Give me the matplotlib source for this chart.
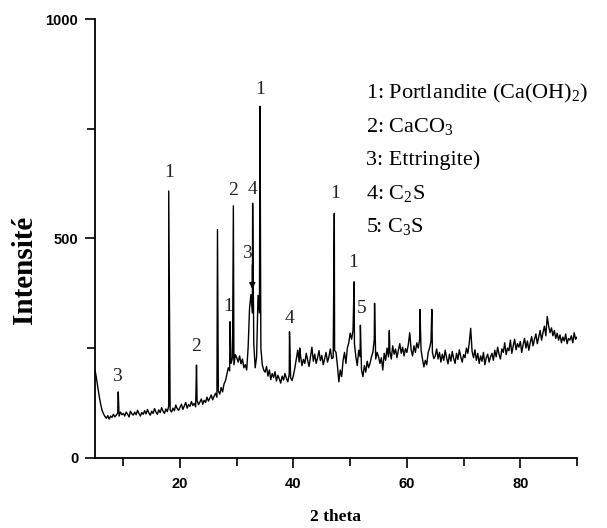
import numpy as np
import matplotlib.pyplot as plt

# scan grid (2 theta, step 0.25) and intensity
scan_start, scan_stop, scan_step = 5, 90, 0.25
background = [
    200, 182, 160, 140, 122, 108, 100, 94, 90, 96, 88, 95, 92, 99, 93, 97, 102, 95, 104, 98,
    101, 95, 104, 99, 93, 106, 100, 97, 104, 98, 108, 101, 95, 103, 99, 107, 100, 110, 102, 97,
    106, 101, 112, 104, 99, 109, 103, 114, 106, 101, 111, 105, 118, 109, 104, 113, 107, 120, 112, 108,
    115, 122, 110, 118, 126, 113, 121, 117, 128, 119, 124, 116, 130, 121, 127, 134, 122, 131, 126, 138,
    129, 136, 143, 132, 140, 147, 138, 152, 145, 160, 150, 168, 175, 190, 205, 198, 215, 228, 212, 235,
    228, 218, 232, 214, 225, 205, 212, 200, 250, 340, 372, 330, 260, 205, 230, 370, 330, 250, 212, 200,
    195, 208, 186, 200, 178, 192, 183, 196, 175, 188, 180, 170, 186, 177, 192, 181, 173, 190, 182, 176,
    188, 205, 225, 245, 218, 232, 210, 224, 215, 238, 222, 208, 230, 252, 220, 236, 215, 228, 244, 221,
    233, 212, 226, 240, 218, 230, 248, 226, 228, 245, 240, 210, 173, 200, 185, 222, 240, 215, 250, 262,
    284, 270, 290, 260, 230, 210, 245, 230, 200, 185, 210, 195, 220, 205, 215, 230, 240, 270, 225, 240,
    230, 215, 228, 200, 238, 222, 250, 230, 242, 225, 255, 236, 248, 228, 245, 260, 238, 252, 232, 249,
    240, 258, 285, 246, 232, 255, 240, 262, 250, 270, 245, 225, 207, 222, 212, 240, 250, 265, 240, 226,
    232, 248, 225, 240, 218, 236, 222, 245, 228, 214, 236, 220, 242, 226, 215, 238, 224, 246, 230, 218,
    235, 228, 250, 238, 262, 295, 242, 228, 246, 222, 238, 215, 232, 220, 240, 212, 228, 236, 218, 230,
    238, 222, 245, 230, 252, 236, 225, 248, 240, 262, 235, 250, 244, 268, 238, 255, 270, 246, 260, 252,
    265, 240, 258, 272, 250, 266, 245, 262, 276, 255, 270, 282, 260, 275, 290, 268, 285, 300, 278, 322,
    300, 285, 296, 278, 290, 272, 284, 268, 280, 262, 275, 266, 282, 260, 272, 268, 278, 262, 285, 270,
    275,
]

# sharp diffraction peaks
peak_pos = [9.1, 18.0, 22.9, 26.6, 28.8, 29.4, 32.8, 34.1, 39.3, 41.1,
            47.2, 50.7, 51.8, 54.3, 56.9, 62.3, 64.4]
peak_top = [150, 608, 211, 520, 310, 574, 580, 801, 287, 250,
            557, 401, 302, 352, 290, 338, 338]

# phase labels over the peaks
label_text = ['3', '1', '2', '1', '2', '4', '1', '4', '1', '1', '5']
label_x = [8.9, 18.0, 22.9, 28.5, 29.4, 32.8, 34.1, 39.3, 47.3, 50.55, 52.1]
label_y = [185, 649, 253, 344, 610, 612, 840, 318, 603, 445, 340]

legend_lines = ['1: Portlandite (Ca(OH)$_2$)', '2: CaCO$_3$', '3: Ettringite)',
                '4: C$_2$S', '5: C$_3$S']

plt.rcParams['mathtext.fontset'] = 'custom'
plt.rcParams['mathtext.rm'] = 'Liberation Serif'
plt.rcParams['mathtext.it'] = 'Liberation Serif:italic'

scan_x = np.arange(scan_start, scan_stop + scan_step / 2, scan_step)
x = np.concatenate([scan_x, peak_pos])
y = np.concatenate([background, peak_top])
order = np.argsort(x, kind='stable')

fig = plt.figure(figsize=(6.07, 5.28), dpi=100)
ax = fig.add_axes([0.1565, 0.1331, 0.7941, 0.8309])
ax.plot(x[order], y[order], color='black', linewidth=1.0)

ax.set_xlim(5, 90)
ax.set_ylim(0, 1000)
ax.set_xticks([20, 40, 60, 80])
ax.set_xticks([10, 30, 50, 70, 90], minor=True)
ax.set_yticks([0, 500, 1000])
ax.set_yticks([250, 750], minor=True)
for s in ['top', 'right']:
    ax.spines[s].set_visible(False)
for s in ['left', 'bottom']:
    ax.spines[s].set_linewidth(1.3)
ax.tick_params(which='major', length=7.5, width=1.2)
ax.tick_params(which='minor', length=5.5, width=1.2)
ax.tick_params(axis='x', which='major', pad=6.5)
ax.tick_params(axis='y', which='major', pad=4.5)
for lab in ax.get_xticklabels() + ax.get_yticklabels():
    lab.set_fontfamily(['Liberation Sans', 'DejaVu Sans'])
    lab.set_fontweight('bold')
    lab.set_fontsize(10.5)

for t, lx, ly in zip(label_text, label_x, label_y):
    ax.text(lx, ly, t, ha='center', va='center', fontsize=14,
            family='Liberation Serif', color='#222222')

ax.annotate('3', xy=(32.74, 378), xytext=(31.75, 466), ha='center', va='center',
            fontsize=14, family='Liberation Serif', color='#222222')
ax.annotate('', xy=(32.74, 378), xytext=(32.74, 446),
            arrowprops=dict(arrowstyle='-|>', color='black', lw=1.0, mutation_scale=9))

legend_y = [831, 755, 678, 603, 527]
for t, ly in zip(legend_lines, legend_y):
    ax.text(52.8, ly, t, ha='left', va='center', fontsize=16,
            family='Liberation Serif', color='black')

fig.text(25 / 607, 1 - 270 / 528, 'Intensité', rotation=90, ha='center', va='center',
         fontsize=21, fontweight='bold', family='Liberation Serif')
fig.text(336 / 607, 1 - 517 / 528, '2 theta', ha='center', va='center',
         fontsize=12.5, fontweight='bold', family='Liberation Serif')

fig.savefig('out.png', dpi=100)
